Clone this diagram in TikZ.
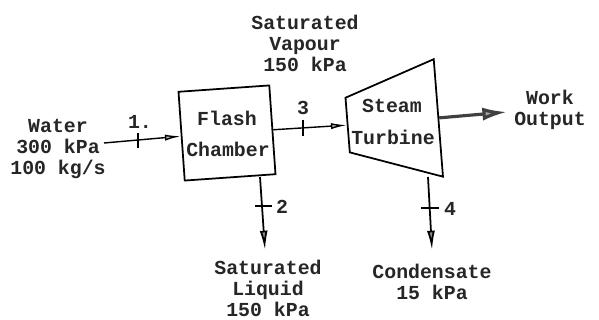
\documentclass[tikz,border=0pt]{standalone}
\usepackage{fontspec}
\setmonofont{Liberation Mono}
\usetikzlibrary{shapes.geometric, arrows.meta}

\begin{document}
\begin{tikzpicture}[x=0.02cm, y=-0.02cm, font = \ttfamily\bfseries\fontsize{11.3}{12}\selectfont,
    txt/.style={align=center, inner sep=0pt, text=black!85},
    chamber/.style={draw, black, line width=1pt, minimum width=1.82cm, minimum height=1.78cm, inner sep=0pt},
    turbinebox/.style={draw, black, line width=1pt, trapezium, trapezium stretches=true, trapezium angle=72, minimum width=2.36cm, minimum height=1.82cm, inner sep=0pt},
    streama/.style={black, line width=0.8pt, -{Latex[length=9pt, width=3.5pt, fill=black!25]}},
    streamd/.style={black, line width=1pt, -{Latex[length=11pt, width=4.5pt, fill=black!45]}},
    workarrow/.style={black!75, line width=1.8pt, -{Latex[length=14pt, width=7.5pt, fill=black!35]}},
    tick/.style={black, line width=0.9pt},
    ]

    \useasboundingbox (0,0) rectangle (599,320);

    \coordinate (in) at (104,143);
    \coordinate (out2) at (260,177);
    \coordinate (end2) at (265,250);
    \coordinate (out4) at (428,177);
    \coordinate (end4) at (432,250);
    \coordinate (end5) at (507,112);

    \coordinate (t1a) at (138,133);
    \coordinate (t1b) at (138,148);
    \coordinate (t3a) at (303,120);
    \coordinate (t3b) at (303,136);
    \coordinate (t2a) at (255,206);
    \coordinate (t2b) at (272,206);
    \coordinate (t4a) at (421,208);
    \coordinate (t4b) at (439,208);

    \node(flash)[chamber, rotate=4] at (227,133){};
    \node(turbine)[turbinebox, rotate=94.5] at (393,121.5){\strut\phantom{x}};

    \node(flashl)[txt] at (227,118){Flash};
    \node(chamberl)[txt] at (228,149){Chamber};
    \node(steam)[txt] at (392,106){Steam};
    \node(turbinel)[txt] at (393,137){Turbine};

    \node(water)[txt] at (58,149){Water\\300 kPa\\100 kg/s};
    \node(vapour)[txt] at (305,43){Saturated\\Vapour\\150 kPa};
    \node(liquid)[txt] at (268,288){Saturated\\Liquid\\150 kPa};
    \node(condensate)[txt] at (432,282){Condensate\\15 kPa};
    \node(work)[txt] at (550,110){Work\\Output};

    \node(n1)[txt] at (140,122){1.};
    \node(n2)[txt] at (282,207){2};
    \node(n3)[txt] at (303,108){3};
    \node(n4)[txt] at (450,209){4};

    \draw[streama](in) -- (flash.west);
    \draw[streama](flash.east) -- (turbine.top side);
    \draw[streamd](out2) -- (end2);
    \draw[streamd](out4) -- (end4);
    \draw[workarrow](turbine.bottom side) -- (end5);

    \draw[tick](t1a) -- (t1b);
    \draw[tick](t3a) -- (t3b);
    \draw[tick](t2a) -- (t2b);
    \draw[tick](t4a) -- (t4b);

\end{tikzpicture}
\end{document}
